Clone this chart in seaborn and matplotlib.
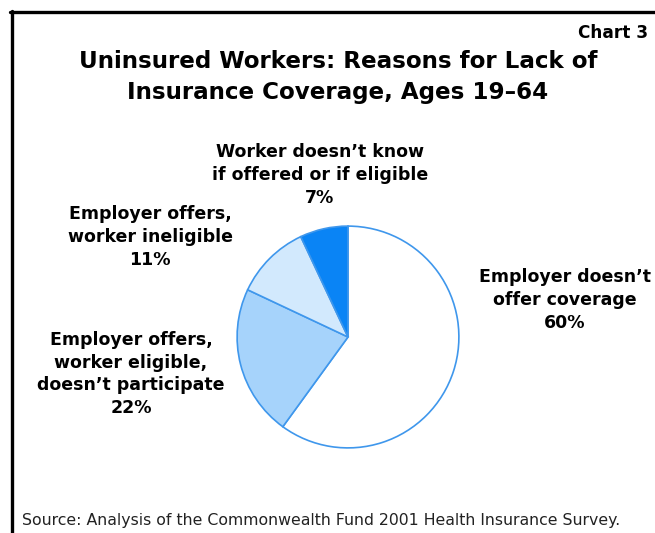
import matplotlib
matplotlib.use("Agg")
import matplotlib.pyplot as plt
import seaborn as sns
from matplotlib.lines import Line2D

sns.set_theme(style="white")
plt.rcParams['font.family'] = ['DejaVu Sans']
plt.rcParams['text.color'] = 'black'

# Data
categories = ["Employer doesn’t\noffer coverage",
              "Employer offers,\nworker eligible,\ndoesn’t participate",
              "Employer offers,\nworker ineligible",
              "Worker doesn’t know\nif offered or if eligible"]
values = [60, 22, 11, 7]
pct_labels = ["60%", "22%", "11%", "7%"]
colors = ["#ffffff", "#a6d3fb", "#d2e9fd", "#0a84f5"]
edge_color = "#3f97ec"

W, H = 655, 533
fig = plt.figure(figsize=(W / 100, H / 100), dpi=100)
fig.patch.set_facecolor("white")

# Pie axes: center (348, 337) px, radius 112 px
cx, cy, r = 348, 337, 112
ax = fig.add_axes([(cx - r) / W, (H - cy - r) / H, 2 * r / W, 2 * r / H])
ax.pie(values, colors=colors, startangle=90, counterclock=False,
       wedgeprops=dict(edgecolor=edge_color, linewidth=1.2))
ax.set_xlim(-1.01, 1.01)
ax.set_ylim(-1.01, 1.01)
ax.set_aspect("auto")
ax.axis("off")

def fx(x):
    return x / W

def fy(y):
    return 1 - y / H

# Frame lines
fig.add_artist(Line2D([fx(10), fx(655)], [fy(12), fy(12)], color="black", linewidth=2.4))
fig.add_artist(Line2D([fx(12), fx(12)], [fy(11), fy(533)], color="black", linewidth=2.4))

# Titles
fig.text(fx(648), fy(33), "Chart 3", ha="right", va="center", fontsize=12.2,
         fontweight="bold", color="black")
fig.text(fx(338), fy(62), "Uninsured Workers: Reasons for Lack of", ha="center", va="center",
         fontsize=16.6, fontweight="bold", color="black")
fig.text(fx(338), fy(92), "Insurance Coverage, Ages 19–64", ha="center", va="center",
         fontsize=16.6, fontweight="bold", color="black")

# Slice labels
label_pos = [(565, 300), (131, 374), (150, 237), (320, 175)]
for cat, pct, (x, y) in zip(categories, pct_labels, label_pos):
    fig.text(fx(x), fy(y), cat + "\n" + pct, ha="center", va="center",
             fontsize=12.5, fontweight="bold", linespacing=1.33, color="black")

# Source
fig.text(fx(22), fy(521), "Source: Analysis of the Commonwealth Fund 2001 Health Insurance Survey.",
         ha="left", va="center", fontsize=11.3, color="#222222")

fig.savefig("out.png", dpi=100)
